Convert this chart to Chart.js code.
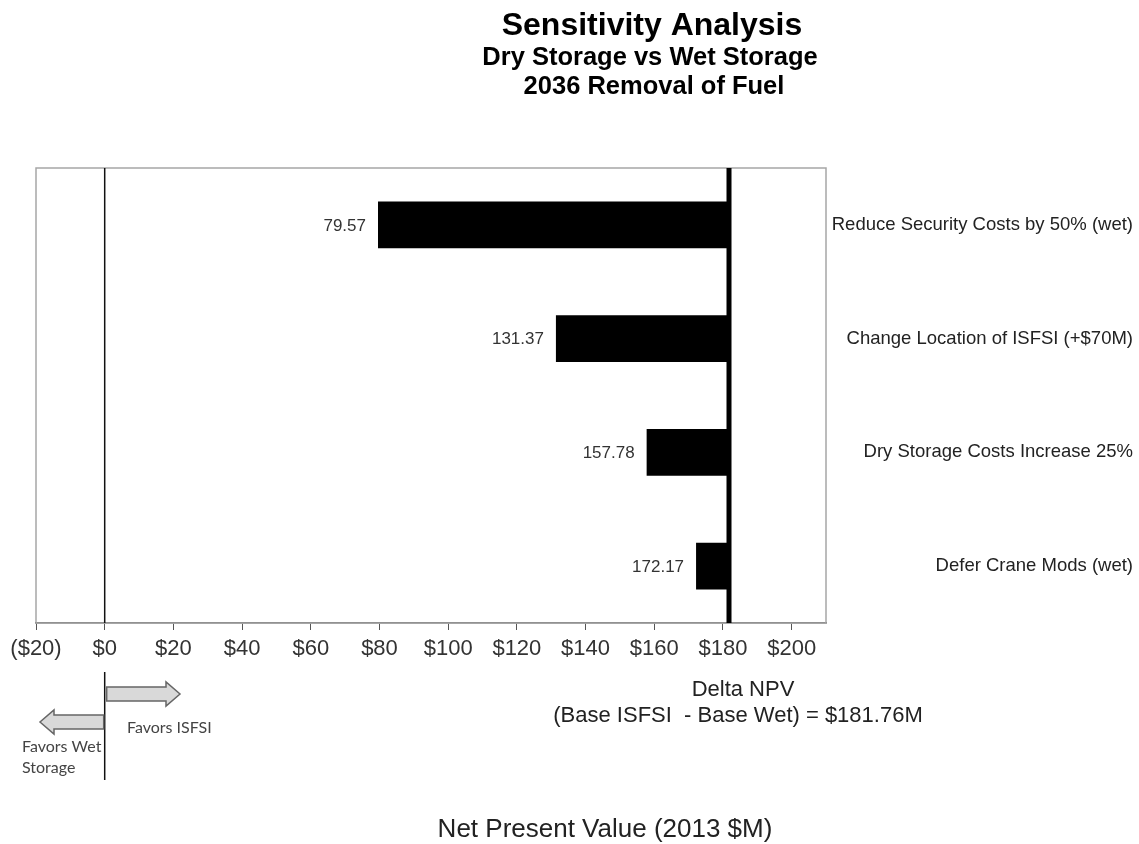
<!DOCTYPE html>
<html>
<head>
<meta charset="utf-8">
<script src="https://cdn.jsdelivr.net/npm/chart.js@4.4.1/dist/chart.umd.min.js"></script>
<style>
  body { margin: 0; background: #fff; }
  #wrap { width: 1139px; height: 844px; position: relative; }
</style>
</head>
<body>
<div id="wrap"><canvas id="tornado"></canvas></div>
<script>
// sensitivity cases, top to bottom
const cases = [
  "Reduce Security Costs by 50% (wet)",
  "Change Location of ISFSI (+$70M)",
  "Dry Storage Costs Increase 25%",
  "Defer Crane Mods (wet)"
];
const caseValues = [79.57, 131.37, 157.78, 172.17];
const baseDelta = 181.76;
const xMin = -20;
const xMax = 210;
const xStep = 20;

const FONT = "'Liberation Sans', Arial, sans-serif";

function money(v) {
  return v < 0 ? "($" + (-v) + ")" : "$" + v;
}

// frame + reference lines + labels on the plot
const overlay = {
  id: "overlay",
  beforeDatasetsDraw(chart) {
    const ctx = chart.ctx;
    const a = chart.chartArea;
    ctx.save();
    ctx.strokeStyle = "#a6a6a6";
    ctx.lineWidth = 1.5;
    ctx.strokeRect(a.left, a.top, a.right - a.left, a.bottom - a.top);
    ctx.restore();
  },
  afterDatasetsDraw(chart) {
    const ctx = chart.ctx;
    const a = chart.chartArea;
    const x = chart.scales.x;
    const meta = chart.getDatasetMeta(0);
    const x0 = x.getPixelForValue(0);
    const xb = x.getPixelForValue(baseDelta);

    ctx.save();
    // $0 line
    ctx.strokeStyle = "#111";
    ctx.lineWidth = 1.5;
    ctx.beginPath();
    ctx.moveTo(x0, a.top);
    ctx.lineTo(x0, a.bottom);
    ctx.stroke();

    // base case line
    ctx.lineWidth = 5;
    ctx.strokeStyle = "#000";
    ctx.beginPath();
    ctx.moveTo(xb, a.top);
    ctx.lineTo(xb, a.bottom);
    ctx.stroke();

    // value labels left of each bar
    ctx.fillStyle = "#333";
    ctx.font = "17px " + FONT;
    ctx.textAlign = "right";
    ctx.textBaseline = "middle";
    caseValues.forEach(function (v, i) {
      const px = x.getPixelForValue(v);
      ctx.fillText(v.toFixed(2), px - 12, meta.data[i].y + 1);
    });

    // favors arrows below the axis
    ctx.lineWidth = 1.5;
    ctx.strokeStyle = "#111";
    ctx.beginPath();
    ctx.moveTo(x0, 672);
    ctx.lineTo(x0, 780);
    ctx.stroke();

    drawArrow(ctx, x0 + 2, 180, 694);
    drawArrow(ctx, x0 - 1, 40, 722);

    ctx.fillStyle = "#444";
    ctx.font = "16px Lato, 'Open Sans', sans-serif";
    ctx.textAlign = "left";
    ctx.fillText("Favors ISFSI", 127, 728);
    ctx.fillText("Favors Wet", 22, 747);
    ctx.fillText("Storage", 22, 768);

    // delta note
    ctx.fillStyle = "#222";
    ctx.font = "22px " + FONT;
    ctx.textAlign = "center";
    ctx.fillText("Delta NPV", 743, 690);
    ctx.fillText("(Base ISFSI  - Base Wet) = $181.76M", 738, 716);

    // axis title
    ctx.font = "26px " + FONT;
    ctx.fillText("Net Present Value (2013 $M)", 605, 830);

    // titles
    ctx.fillStyle = "#000";
    ctx.font = "bold 32px " + FONT;
    ctx.fillText("Sensitivity Analysis", 652, 26);
    ctx.font = "bold 25.5px " + FONT;
    ctx.fillText("Dry Storage vs Wet Storage", 650, 58);
    ctx.fillText("2036 Removal of Fuel", 654, 87);
    ctx.restore();
  }
};

function drawArrow(ctx, xStart, xEnd, cy) {
  const dir = xEnd > xStart ? 1 : -1;
  const shaft = 7;
  const head = 12;
  const headLen = 14;
  const xh = xEnd - dir * headLen;
  ctx.save();
  ctx.fillStyle = "#d9d9d9";
  ctx.strokeStyle = "#666";
  ctx.lineWidth = 1.5;
  ctx.beginPath();
  ctx.moveTo(xStart, cy - shaft);
  ctx.lineTo(xh, cy - shaft);
  ctx.lineTo(xh, cy - head);
  ctx.lineTo(xEnd, cy);
  ctx.lineTo(xh, cy + head);
  ctx.lineTo(xh, cy + shaft);
  ctx.lineTo(xStart, cy + shaft);
  ctx.closePath();
  ctx.fill();
  ctx.stroke();
  ctx.restore();
}

new Chart(document.getElementById("tornado"), {
  type: "bar",
  data: {
    labels: cases,
    datasets: [{
      data: caseValues.map(v => [v, baseDelta]),
      backgroundColor: "#000",
      borderColor: "#000",
      borderWidth: 0,
      borderSkipped: false,
      barPercentage: 0.41,
      categoryPercentage: 1
    }]
  },
  options: {
    indexAxis: "y",
    responsive: true,
    maintainAspectRatio: false,
    animation: false,
    layout: { padding: { top: 168, left: 36, right: 6, bottom: 0 } },
    plugins: {
      legend: { display: false },
      tooltip: { enabled: false },
      title: { display: false }
    },
    scales: {
      x: {
        type: "linear",
        min: xMin,
        max: xMax,
        grid: { drawOnChartArea: false, drawTicks: true, tickLength: 7, color: "#555" },
        border: { display: true, color: "#555", width: 1.5 },
        ticks: {
          stepSize: xStep,
          includeBounds: false,
          padding: 6,
          color: "#333",
          font: { family: FONT, size: 22 },
          callback: v => money(v)
        },
        afterFit(scale) { scale.height = 221; }
      },
      y: {
        position: "right",
        grid: { display: false, drawTicks: false },
        border: { display: false },
        ticks: {
          crossAlign: "far",
          padding: 3,
          color: "#222",
          font: { family: FONT, size: 18.5 }
        },
        afterFit(scale) { scale.width = 307; }
      }
    }
  },
  plugins: [overlay]
});
</script>
</body>
</html>
